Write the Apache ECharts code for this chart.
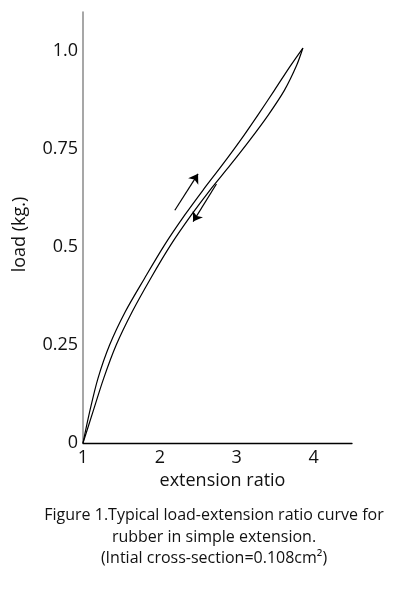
<!DOCTYPE html>
<html><head><meta charset="utf-8">
<script src="https://cdn.jsdelivr.net/npm/echarts@6/dist/echarts.min.js"></script>
<style>html,body{margin:0;padding:0;background:#fff}#c{width:396px;height:590px}</style>
</head><body><div id="c"></div>
<script>
// loading curve (extension ratio, load kg)
const loadingX = [1, 1.087, 1.195, 1.346, 1.55, 1.80, 2.06, 2.325, 2.56, 2.81, 3.05, 3.275, 3.49, 3.69, 3.861];
const loadingY = [0, 0.08, 0.165, 0.25, 0.335, 0.42, 0.505, 0.582, 0.645, 0.709, 0.773, 0.837, 0.9, 0.96, 1.008];
// unloading curve
const unloadingX = [1, 1.13, 1.269, 1.432, 1.64, 1.88, 2.14, 2.41, 2.65, 2.915, 3.17, 3.41, 3.62, 3.78, 3.861];
const unloadingY = [0, 0.08, 0.165, 0.25, 0.335, 0.42, 0.505, 0.582, 0.645, 0.709, 0.773, 0.837, 0.9, 0.964, 1.008];
// direction arrows [x1,y1,x2,y2]
const arrowUp = [2.195, 0.594, 2.497, 0.687];
const arrowDown = [2.736, 0.661, 2.433, 0.565];
const yTickValues = [0, 0.25, 0.5, 0.75, 1.0];
const yTickLabels = ['0', '0.25', '0.5', '0.75', '1.0'];
const xTickValues = [1, 2, 3, 4];
const xTickLabels = ['1', '2', '3', '4'];
const xName = 'extension ratio';
const yName = 'load (kg.)';
const caption = 'Figure 1.Typical load-extension ratio curve for\nrubber in simple extension.\n(Intial cross-section=0.108cm\u00B2)';

const FONT = 'Open Sans';
const chart = echarts.init(document.getElementById('c'), null, {renderer: 'canvas'});
const zip = (a, b) => a.map((v, i) => [v, b[i]]);
chart.setOption({
  animation: false,
  backgroundColor: '#fff',
  textStyle: {fontFamily: FONT},
  grid: {left: 83, top: 12, right: 44, bottom: 147},
  title: {
    text: caption, left: 209, top: 500, textAlign: 'center',
    textStyle: {fontFamily: FONT, fontSize: 16, fontWeight: 'normal', color: '#111', lineHeight: 21.5}
  },
  xAxis: {
    type: 'value', min: 1, max: 4.5, interval: 1,
    name: xName, nameLocation: 'middle', nameGap: 29,
    nameTextStyle: {fontFamily: FONT, fontSize: 18, color: '#111', padding: [0, 0, 0, 10]},
    axisLine: {lineStyle: {color: '#000', width: 1.3}},
    axisTick: {show: false}, splitLine: {show: false},
    axisLabel: {fontFamily: FONT, fontSize: 18, color: '#111', margin: 6,
      formatter: v => { const i = xTickValues.indexOf(v); return i >= 0 ? xTickLabels[i] : ''; }}
  },
  yAxis: {
    type: 'value', min: 0, max: 1.1, interval: 0.25,
    name: yName, nameLocation: 'middle', nameGap: 54, nameRotate: 90,
    nameTextStyle: {fontFamily: FONT, fontSize: 18, color: '#111', padding: [0, 14, 0, 0]},
    axisLine: {show: true, lineStyle: {color: '#8a8a8a', width: 1.5}},
    axisTick: {show: false}, splitLine: {show: false},
    axisLabel: {fontFamily: FONT, fontSize: 18, color: '#111', margin: 5,
      formatter: v => { const i = yTickValues.findIndex(t => Math.abs(t - v) < 1e-9); return i >= 0 ? yTickLabels[i] : ''; }}
  },
  series: [
    {type: 'line', data: zip(loadingX, loadingY), smooth: 0.3, symbol: 'none',
     lineStyle: {color: '#000', width: 1.2}},
    {type: 'line', data: zip(unloadingX, unloadingY), smooth: 0.3, symbol: 'none',
     lineStyle: {color: '#000', width: 1.2},
     markLine: {
       silent: true, symbol: ['none', 'arrow'], symbolSize: 9,
       label: {show: false},
       lineStyle: {color: '#000', width: 1.2, type: 'solid'},
       data: [
         [{coord: [arrowUp[0], arrowUp[1]]}, {coord: [arrowUp[2], arrowUp[3]]}],
         [{coord: [arrowDown[0], arrowDown[1]]}, {coord: [arrowDown[2], arrowDown[3]]}]
       ]
     }}
  ]
});
</script></body></html>
